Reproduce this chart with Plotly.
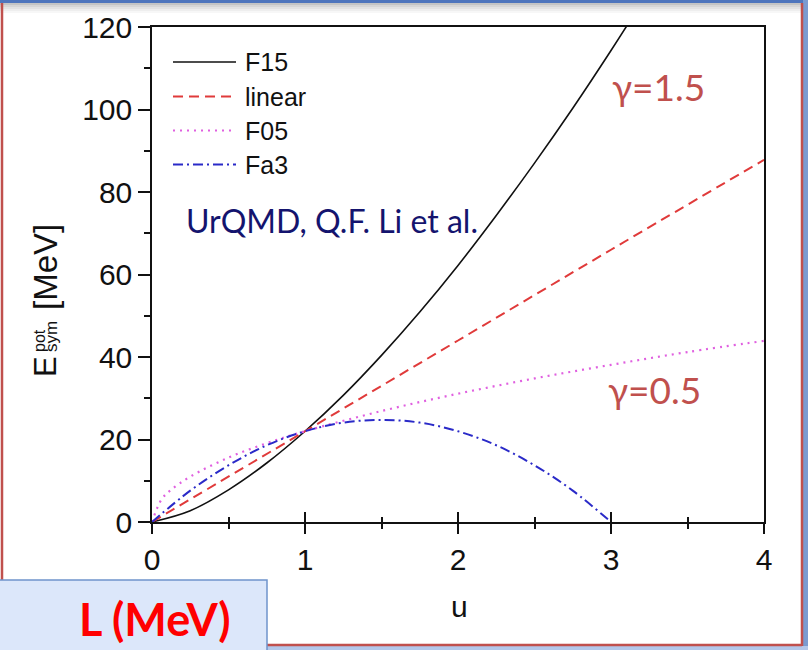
import plotly.graph_objects as go

# Symmetry potential energy vs reduced density u = rho/rho0 (values in MeV)
u_f15 = [0, 0.25, 0.5, 0.75, 1.0, 1.25, 1.5, 1.75, 2.0, 2.25, 2.5, 2.75, 3.0, 3.25]
e_f15 = [0, 2.75, 7.8, 14.3, 22.0, 30.7, 40.4, 50.9, 62.2, 74.3, 87.0, 100.3, 114.3, 128.9]

u_lin = [0, 1, 2, 3, 4]
e_lin = [0, 22.0, 44.0, 66.0, 87.8]

u_f05 = [0, 0.0625, 0.125, 0.25, 0.5, 0.75, 1.0, 1.5, 2.0, 2.5, 3.0, 3.5, 4.0]
e_f05 = [0, 5.5, 7.8, 11.0, 15.6, 19.1, 22.0, 26.9, 31.1, 34.8, 38.1, 41.2, 43.9]

u_fa3 = [0, 0.25, 0.5, 0.75, 1.0, 1.25, 1.5, 1.75, 2.0, 2.25, 2.5, 2.75, 3.0]
e_fa3 = [0, 7.6, 13.75, 18.6, 22.0, 24.1, 24.75, 24.1, 22.0, 18.6, 13.75, 7.6, 0]

series_names = ["F15", "linear", "F05", "Fa3"]
series_colors = ["#111111", "#e03a3a", "#e060e0", "#2a2ac8"]
series_dash = ["solid", "10px,6px", "2px,5px", "10px,4px,2px,4px"]
series_width = [1.6, 2, 2.2, 2]

x_ticks = [0, 1, 2, 3, 4]
y_ticks = [0, 20, 40, 60, 80, 100, 120]

# page geometry (pixels)
FIG_W, FIG_H = 808, 650
PL, PR, PT, PB = 152, 764, 27, 522
PW, PH = PR - PL, PB - PT


def fx(x):
    return (x - PL) / PW


def fy(y):
    return (PB - y) / PH


fig = go.Figure()
data = [(u_f15, e_f15), (u_lin, e_lin), (u_f05, e_f05), (u_fa3, e_fa3)]
for (xs, ys), name, col, dash, w in zip(data, series_names, series_colors, series_dash, series_width):
    fig.add_trace(go.Scatter(
        x=xs, y=ys, name=name, mode="lines",
        line=dict(color=col, dash=dash, width=w, shape="spline", smoothing=1.0),
        showlegend=False, hoverinfo="skip",
    ))
# second copy of the x axis carries the inward half of the crossing ticks
fig.add_trace(go.Scatter(x=[None], y=[None], xaxis="x2", showlegend=False))

ARIAL = "Liberation Sans, Arial, sans-serif"
CAL = "Lato, Carlito, Calibri, sans-serif"

fig.update_layout(
    width=FIG_W, height=FIG_H,
    margin=dict(l=PL, r=FIG_W - PR, t=PT, b=FIG_H - PB, autoexpand=False),
    paper_bgcolor="white", plot_bgcolor="white",
    xaxis=dict(
        range=[0, 4], tickvals=x_ticks, ticks="outside", ticklen=10, tickwidth=1.5,
        tickcolor="#111", showline=True, linecolor="#111", linewidth=1.5, mirror=True,
        showgrid=False, zeroline=False,
        tickfont=dict(family=ARIAL, size=30, color="#111"),
        minor=dict(tickvals=[0.5, 1.5, 2.5, 3.5], ticks="outside", ticklen=5,
                   tickwidth=1.5, tickcolor="#111", showgrid=False),
    ),
    xaxis2=dict(
        range=[0, 4], overlaying="x", side="bottom", anchor="y",
        tickvals=x_ticks, ticks="inside", ticklen=10, tickwidth=1.5, tickcolor="#111",
        showticklabels=False, showline=False, showgrid=False, zeroline=False,
        minor=dict(tickvals=[0.5, 1.5, 2.5, 3.5], ticks="inside", ticklen=5,
                   tickwidth=1.5, tickcolor="#111", showgrid=False),
    ),
    yaxis=dict(
        range=[0, 120], tickvals=y_ticks, ticks="outside", ticklen=12, tickwidth=1.5,
        tickcolor="#111", showline=True, linecolor="#111", linewidth=1.5, mirror=True,
        showgrid=False, zeroline=False,
        tickfont=dict(family=ARIAL, size=30, color="#111"),
        minor=dict(tickvals=[10, 30, 50, 70, 90, 110], ticks="outside", ticklen=6,
                   tickwidth=1.5, tickcolor="#111", showgrid=False),
    ),
)

shapes = []
annotations = []

# legend drawn inside the frame
leg_y = [62, 96.5, 130.5, 164.5]
for yy, name, col, dash, w in zip(leg_y, series_names, series_colors, series_dash, series_width):
    shapes.append(dict(type="line", xref="paper", yref="paper",
                       x0=fx(173), x1=fx(236), y0=fy(yy), y1=fy(yy),
                       line=dict(color=col, dash=dash, width=w)))
    annotations.append(dict(xref="paper", yref="paper", x=fx(243), y=fy(yy),
                            xanchor="left", yanchor="middle", showarrow=False,
                            text=name, font=dict(family=ARIAL, size=25, color="#111")))

# axis titles
annotations.append(dict(xref="paper", yref="paper", x=fx(459), y=fy(606),
                        xanchor="center", yanchor="middle", showarrow=False, text="u",
                        font=dict(family=ARIAL, size=30, color="#111")))
annotations.append(dict(xref="paper", yref="paper", x=fx(45), y=fy(367),
                        xanchor="center", yanchor="middle", showarrow=False, text="E",
                        textangle=-90, font=dict(family=ARIAL, size=31, color="#111")))
annotations.append(dict(xref="paper", yref="paper", x=fx(39), y=fy(341),
                        xanchor="center", yanchor="middle", showarrow=False, text="pot",
                        textangle=-90, font=dict(family=ARIAL, size=16, color="#111")))
annotations.append(dict(xref="paper", yref="paper", x=fx(51), y=fy(337),
                        xanchor="center", yanchor="middle", showarrow=False, text="sym",
                        textangle=-90, font=dict(family=ARIAL, size=17, color="#111")))
annotations.append(dict(xref="paper", yref="paper", x=fx(45), y=fy(267),
                        xanchor="center", yanchor="middle", showarrow=False, text="[MeV]",
                        textangle=-90, font=dict(family=ARIAL, size=33, color="#111")))

# in-plot notes
annotations.append(dict(xref="paper", yref="paper", x=fx(184), y=fy(221),
                        xanchor="left", yanchor="middle", showarrow=False,
                        text="UrQMD, Q.F. Li et al.",
                        font=dict(family=CAL, size=32, color="#14146e")))
annotations.append(dict(xref="paper", yref="paper", x=fx(610), y=fy(86),
                        xanchor="left", yanchor="middle", showarrow=False, text="γ=1.5",
                        font=dict(family=CAL, size=37, color="#c0504d")))
annotations.append(dict(xref="paper", yref="paper", x=fx(606), y=fy(389),
                        xanchor="left", yanchor="middle", showarrow=False, text="γ=0.5",
                        font=dict(family=CAL, size=37, color="#c0504d")))

# slide frame: blue edges, red border, caption box
frame_blue = "#7b9bd0"
shapes += [
    dict(type="rect", xref="paper", yref="paper", x0=fx(0), x1=fx(808), y0=fy(0), y1=fy(3),
         fillcolor="#4f76bd", line=dict(width=0), layer="above"),
]
for i, op in enumerate([0.35, 0.25, 0.17, 0.10, 0.05]):
    shapes.append(dict(type="rect", xref="paper", yref="paper", x0=fx(0), x1=fx(808),
                       y0=fy(3 + 2 * i), y1=fy(5 + 2 * i),
                       fillcolor=f"rgba(90,90,90,{op})", line=dict(width=0), layer="above"))
shapes += [
    dict(type="rect", xref="paper", yref="paper", x0=fx(803), x1=fx(808), y0=fy(0), y1=fy(650),
         fillcolor=frame_blue, line=dict(width=0), layer="above"),
    dict(type="rect", xref="paper", yref="paper", x0=fx(0), x1=fx(808), y0=fy(646), y1=fy(650),
         fillcolor="#b3c7ea", line=dict(width=0), layer="above"),
    dict(type="line", xref="paper", yref="paper", x0=fx(2), x1=fx(2), y0=fy(3), y1=fy(646),
         line=dict(color="#c0504d", width=2.5), layer="above"),
    dict(type="line", xref="paper", yref="paper", x0=fx(802), x1=fx(802), y0=fy(3), y1=fy(646),
         line=dict(color="#c0504d", width=2.5), layer="above"),
    dict(type="line", xref="paper", yref="paper", x0=fx(2), x1=fx(802), y0=fy(645), y1=fy(645),
         line=dict(color="#c0504d", width=2.5), layer="above"),
    dict(type="rect", xref="paper", yref="paper", x0=fx(-2), x1=fx(267), y0=fy(580), y1=fy(652),
         fillcolor="#dce7fa", line=dict(color="#6f94cc", width=1.5), layer="above"),
]
annotations.append(dict(xref="paper", yref="paper", x=fx(155), y=fy(619),
                        xanchor="center", yanchor="middle", showarrow=False, text="<b>L (MeV)</b>",
                        font=dict(family=CAL, size=45, color="#ff0000")))

fig.update_layout(shapes=shapes, annotations=annotations)
fig.write_html("out.html")
